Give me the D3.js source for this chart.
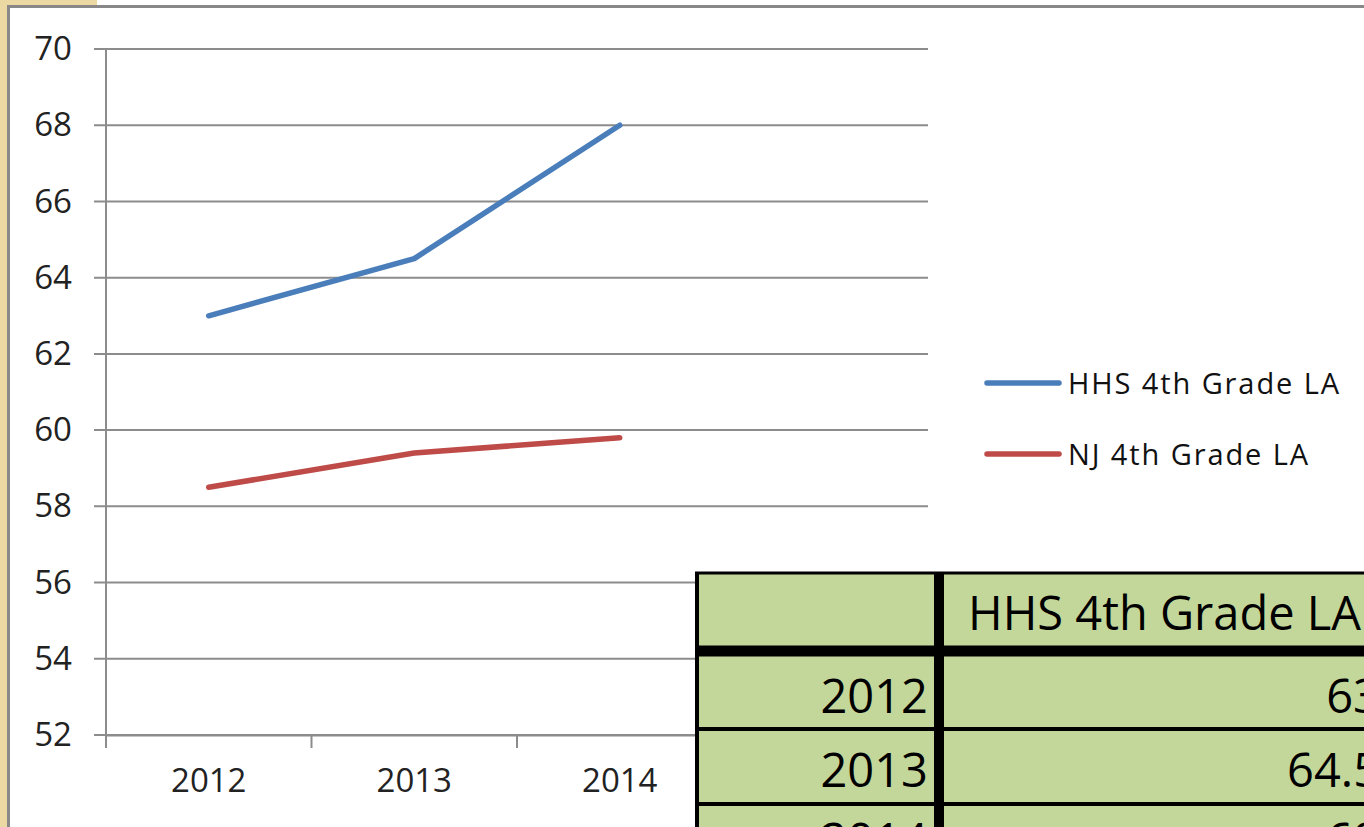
<!DOCTYPE html>
<html>
<head>
<meta charset="utf-8">
<script src="https://cdn.jsdelivr.net/npm/d3@7"></script>
<style>
  body { margin: 0; background: #fff; overflow: hidden; }
  svg { display: block; font-family: "Open Sans", sans-serif; }
</style>
</head>
<body>
<script>
// data
var years = ["2012", "2013", "2014", "2015"];
var hhs = [63, 64.5, 68, null];
var nj = [58.5, 59.4, 59.8, null];
var seriesNames = ["HHS 4th Grade LA", "NJ 4th Grade LA"];
var yTicks = [52, 54, 56, 58, 60, 62, 64, 66, 68, 70];
var tableYears = ["2012", "2013", "2014"];
var tableHhs = ["63", "64.5", "68"];

var width = 1364,
    height = 827;

var svg = d3.select("body").append("svg")
    .attr("width", width)
    .attr("height", height);

// parchment edge + frame
svg.append("rect").attr("x", 0).attr("y", 0).attr("width", 97).attr("height", 6).attr("fill", "#ecd8a3");
svg.append("rect").attr("x", 0).attr("y", 0).attr("width", 8).attr("height", height).attr("fill", "#ecd8a3");
svg.append("rect").attr("x", 8).attr("y", 5).attr("width", width).attr("height", 3).attr("fill", "#888");
svg.append("rect").attr("x", 7).attr("y", 5).attr("width", 3).attr("height", height).attr("fill", "#888");

var x = d3.scaleBand()
    .domain(years)
    .range([106, 928]);

var y = d3.scaleLinear()
    .domain([52, 70])
    .range([735, 49]);

// gridlines
svg.append("g")
    .selectAll("line")
    .data(yTicks)
    .enter().append("line")
    .attr("x1", 94)
    .attr("x2", 928)
    .attr("y1", d => y(d))
    .attr("y2", d => y(d))
    .attr("stroke", "#8c8c8c")
    .attr("stroke-width", 2);

// y axis
var yAxis = svg.append("g")
    .attr("transform", "translate(106,0)")
    .call(d3.axisLeft(y).tickValues(yTicks).tickSize(12).tickPadding(22));
yAxis.select(".domain").attr("stroke", "#8c8c8c").attr("stroke-width", 2).attr("d", "M0,49V748");
yAxis.selectAll(".tick line").attr("stroke", "none");
yAxis.selectAll("text")
    .attr("font-size", 33)
    .attr("font-family", "Open Sans")
    .attr("fill", "#222");

// x axis (the empty 2015 slot gets no label)
var xAxis = svg.append("g")
    .attr("transform", "translate(0,735)")
    .call(d3.axisBottom(x).tickSize(0).tickPadding(34)
        .tickFormat(d => hhs[years.indexOf(d)] == null ? "" : d));
xAxis.select(".domain").attr("stroke", "#8c8c8c").attr("stroke-width", 2);
xAxis.selectAll("text")
    .attr("font-size", 33)
    .attr("font-family", "Open Sans")
    .attr("fill", "#222");

var bounds = years.map(d => x(d)).concat([x.range()[1]]);
svg.append("g")
    .selectAll("line")
    .data(bounds)
    .enter().append("line")
    .attr("x1", d => d)
    .attr("x2", d => d)
    .attr("y1", 735)
    .attr("y2", 748)
    .attr("stroke", "#8c8c8c")
    .attr("stroke-width", 2);

var line = d3.line()
    .defined(d => d.v != null)
    .x(d => x(d.year) + x.bandwidth() / 2)
    .y(d => y(d.v));

var colors = ["#4a7ebb", "#be4b48"];
[hhs, nj].forEach(function (vals, i) {
    svg.append("path")
        .datum(years.map((yr, j) => ({ year: yr, v: vals[j] })))
        .attr("fill", "none")
        .attr("stroke", colors[i])
        .attr("stroke-width", 5.5)
        .attr("stroke-linecap", "round")
        .attr("stroke-linejoin", "round")
        .attr("d", line);
});

// legend
var legend = svg.append("g")
    .selectAll("g")
    .data(seriesNames)
    .enter().append("g")
    .attr("transform", (d, i) => "translate(0," + (383 + i * 71) + ")");
legend.append("line")
    .attr("x1", 987).attr("x2", 1059)
    .attr("stroke", (d, i) => colors[i])
    .attr("stroke-width", 5.5)
    .attr("stroke-linecap", "round");
legend.append("text")
    .attr("x", 1068)
    .attr("y", 11)
    .attr("font-size", 29)
    .attr("letter-spacing", 1.9)
    .attr("fill", "#111")
    .text(d => d);

// data table under the chart
var tbl = svg.append("g");
var rowTops = [573, 651, 729, 804, 879];
var colX = [697, 939, 1390];
var baselines = [713, 787, 857];

tbl.append("rect")
    .attr("x", colX[0]).attr("y", rowTops[0])
    .attr("width", width).attr("height", height)
    .attr("fill", "#c4d79b");

tbl.append("text")
    .attr("x", 968)
    .attr("y", 630)
    .attr("font-size", 47)
    .attr("fill", "#000")
    .text(seriesNames[0]);

tableYears.forEach(function (yr, i) {
    tbl.append("text")
        .attr("x", 928).attr("y", baselines[i])
        .attr("text-anchor", "end")
        .attr("font-size", 47)
        .attr("fill", "#000")
        .text(yr);
    tbl.append("text")
        .attr("x", 1380).attr("y", baselines[i])
        .attr("text-anchor", "end")
        .attr("font-size", 47)
        .attr("fill", "#000")
        .text(tableHhs[i]);
});

// borders
var rowW = [3, 11, 4, 4, 4];
rowTops.forEach(function (t, i) {
    tbl.append("line")
        .attr("x1", colX[0] - 2).attr("x2", width)
        .attr("y1", t).attr("y2", t)
        .attr("stroke", "#000")
        .attr("stroke-width", rowW[i]);
});
tbl.append("line")
    .attr("x1", colX[0]).attr("x2", colX[0])
    .attr("y1", rowTops[0]).attr("y2", height)
    .attr("stroke", "#000").attr("stroke-width", 4);
tbl.append("line")
    .attr("x1", colX[1]).attr("x2", colX[1])
    .attr("y1", rowTops[0]).attr("y2", height)
    .attr("stroke", "#000").attr("stroke-width", 10);
</script>
</body>
</html>
